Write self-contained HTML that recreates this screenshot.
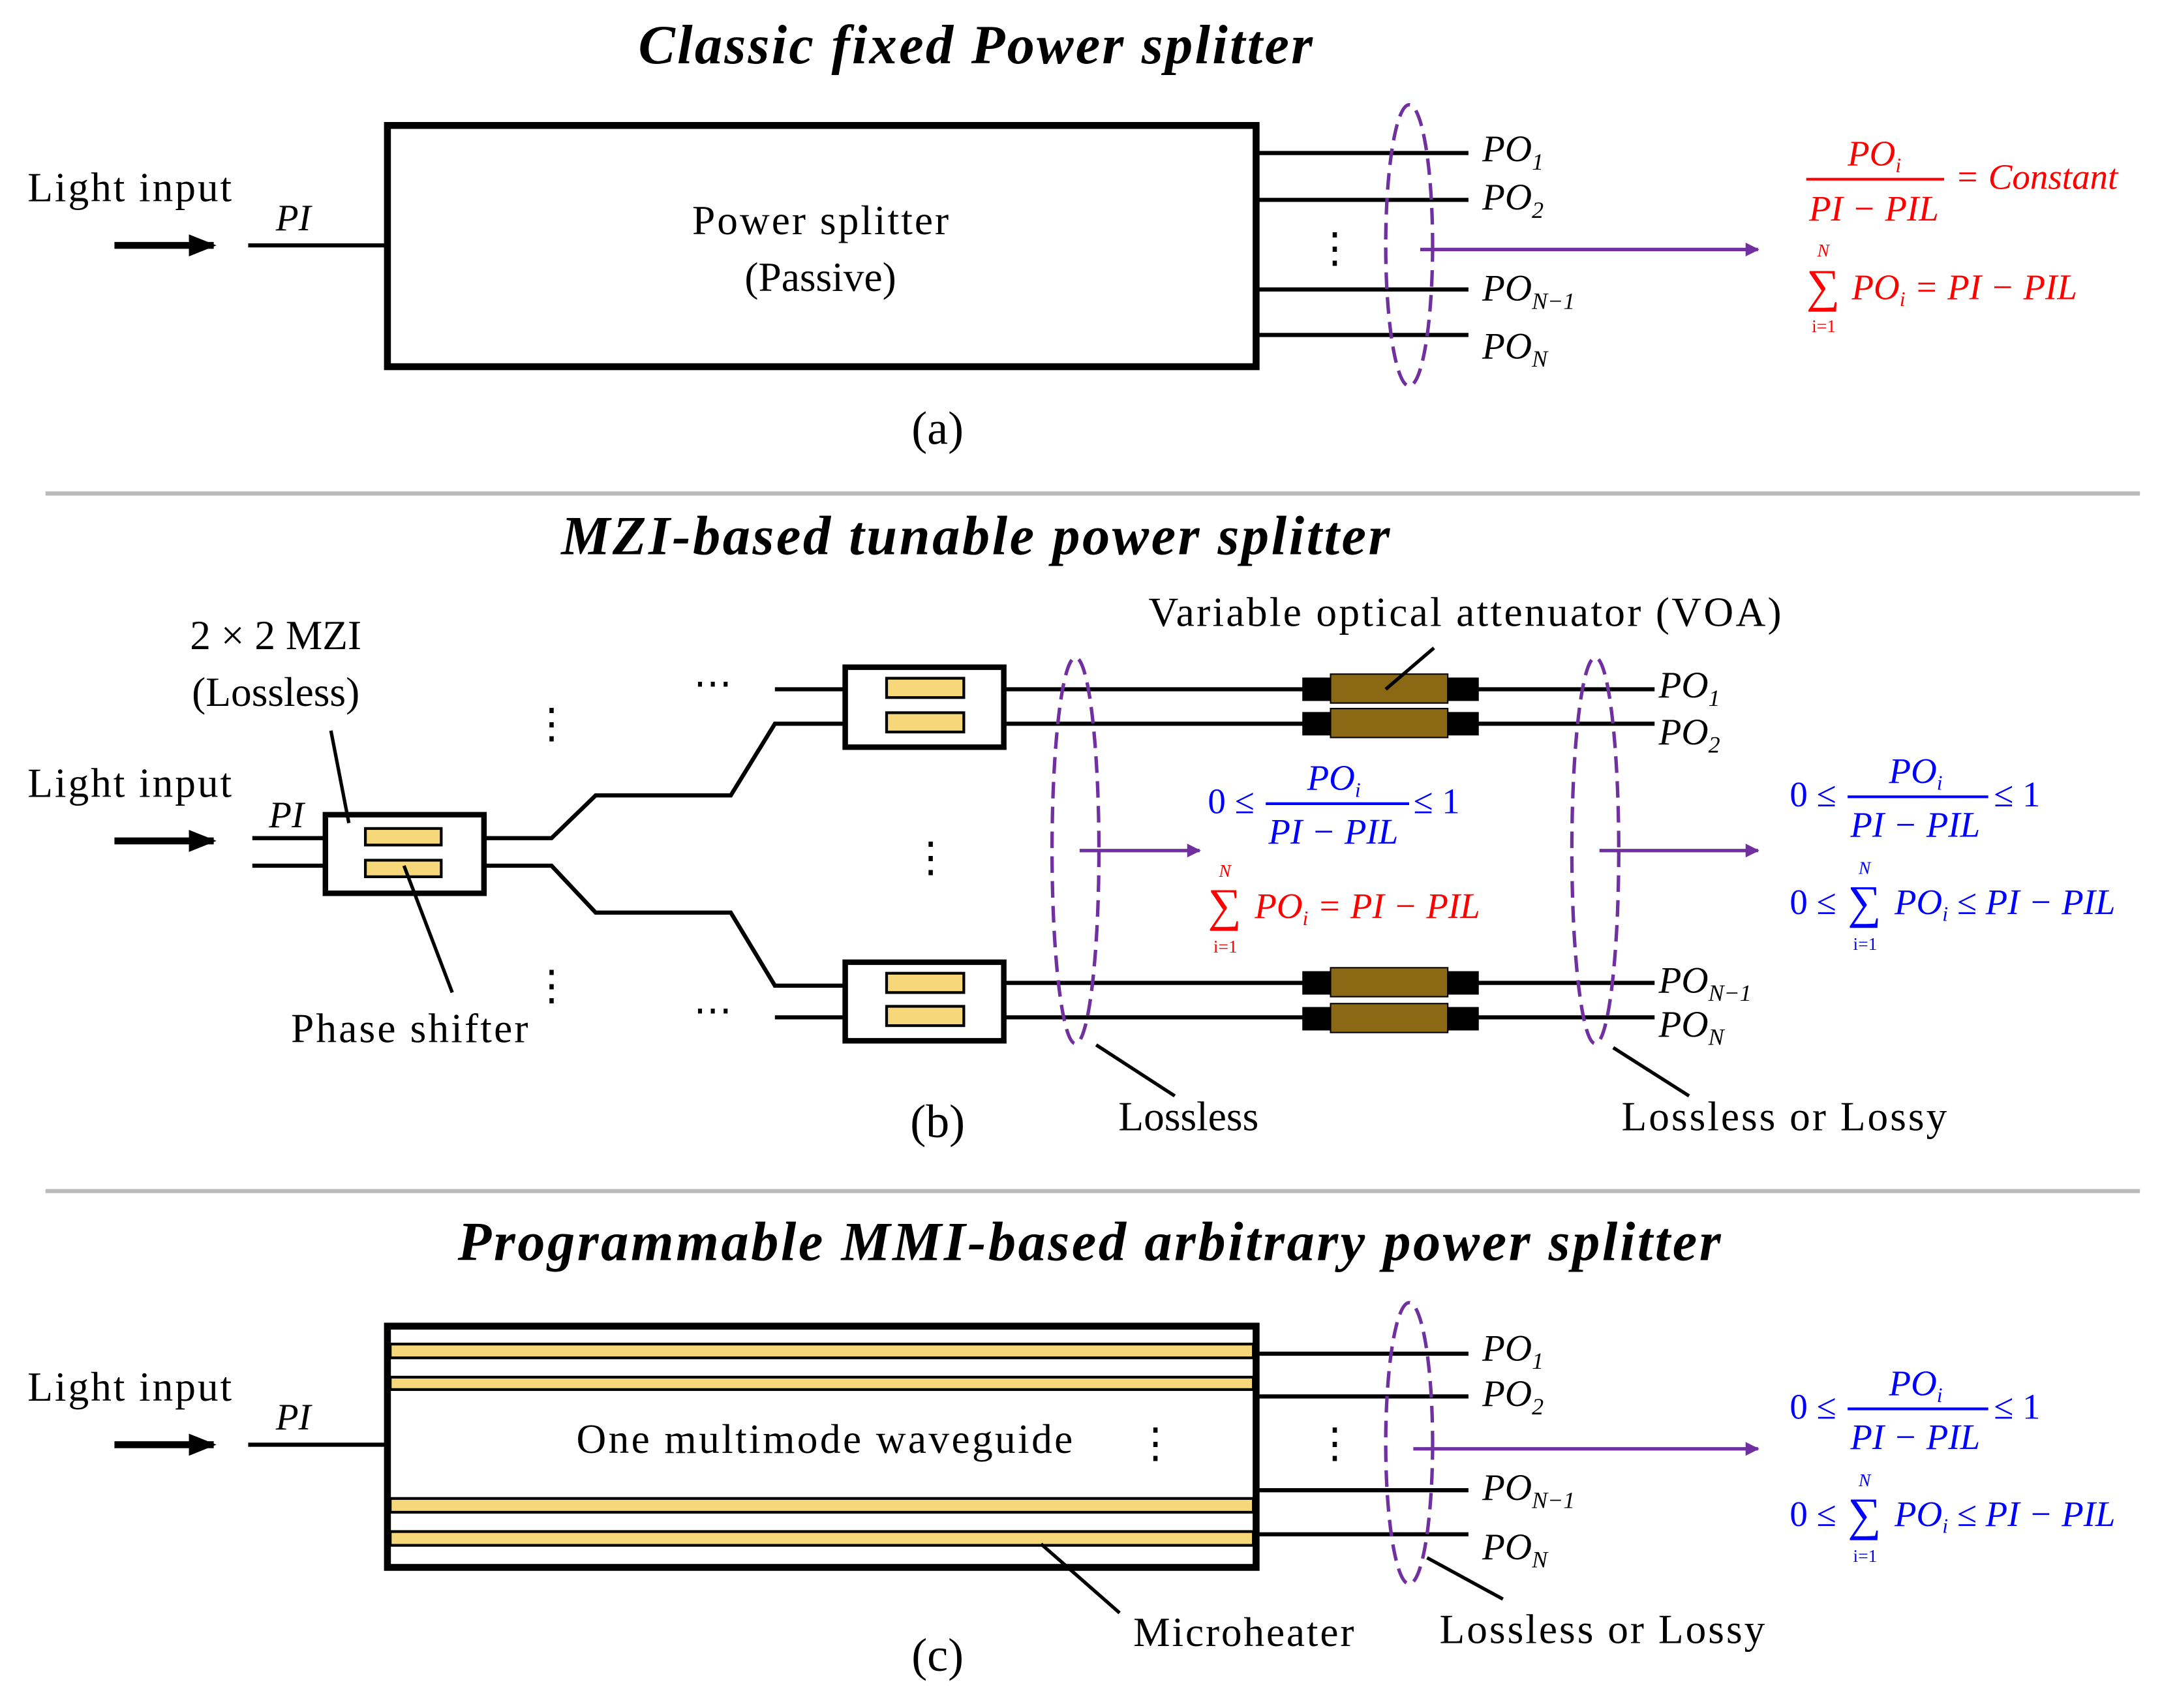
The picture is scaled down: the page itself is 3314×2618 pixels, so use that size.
<!DOCTYPE html>
<html><head><meta charset="utf-8"><style>
html,body{margin:0;padding:0;background:#fff}
svg{display:block}
text{font-family:"Liberation Serif",serif}
.t{font-weight:bold;font-style:italic;font-size:40px}
.n{font-size:30px}
.i{font-style:italic;font-size:27px}
.r{fill:#f00}
.b{fill:#00f}
</style></head><body>
<svg width="3314" height="2618" viewBox="0 0 1568 1239" preserveAspectRatio="none" xmlns="http://www.w3.org/2000/svg">
<defs>
<marker id="pa" markerWidth="10" markerHeight="10" refX="9" refY="5" orient="auto" markerUnits="userSpaceOnUse" viewBox="0 0 10 10"><path d="M0,0 L10,5 L0,10 z" fill="#7030a0"/></marker>
<marker id="ba" markerWidth="20" markerHeight="20" refX="18" refY="10" orient="auto" markerUnits="userSpaceOnUse" viewBox="0 0 20 20"><path d="M0,2 L20,10 L0,18 z" fill="#000"/></marker>
</defs>
<g stroke="#000" fill="none">
<!-- (a) -->
<rect x="281" y="91" width="630" height="175" stroke-width="5"/>
<line x1="83" y1="178" x2="155" y2="178" stroke-width="5" marker-end="url(#ba)"/>
<line x1="180" y1="178" x2="281" y2="178" stroke-width="3"/>
<g stroke-width="3"><line x1="911" y1="111" x2="1065" y2="111"/><line x1="911" y1="145" x2="1065" y2="145"/><line x1="911" y1="210" x2="1065" y2="210"/><line x1="911" y1="243" x2="1065" y2="243"/></g>
<ellipse cx="1022" cy="178" rx="17" ry="102" stroke="#7030a0" stroke-width="2.5" stroke-dasharray="12,6"/>
<line x1="1030" y1="181" x2="1275" y2="181" stroke="#7030a0" stroke-width="2.5" marker-end="url(#pa)"/>
<line x1="1310" y1="130" x2="1410" y2="130" stroke="#f00" stroke-width="2"/>
<line x1="33" y1="358" x2="1552" y2="358" stroke="#bbb" stroke-width="3"/>
<!-- (b) -->
<line x1="83" y1="610" x2="155" y2="610" stroke-width="5" marker-end="url(#ba)"/>
<g stroke-width="3">
<line x1="183" y1="608" x2="236" y2="608"/><line x1="183" y1="628" x2="236" y2="628"/>
<polyline points="351,608 400,608 432,577 530,577 562,525 613,525"/>
<line x1="562" y1="500" x2="613" y2="500"/>
<polyline points="351,628 400,628 432,662 530,662 562,715 613,715"/>
<line x1="562" y1="738" x2="613" y2="738"/>
<line x1="728" y1="500" x2="1200" y2="500"/><line x1="728" y1="525" x2="1200" y2="525"/>
<line x1="728" y1="713" x2="1200" y2="713"/><line x1="728" y1="738" x2="1200" y2="738"/>
</g>
<rect x="236" y="591" width="115" height="57" stroke-width="4" fill="#fff"/>
<rect x="613" y="484" width="115" height="58" stroke-width="4" fill="#fff"/>
<rect x="613" y="698" width="115" height="57" stroke-width="4" fill="#fff"/>
<g fill="#f6d77a" stroke-width="2">
<rect x="265" y="601" width="55" height="12"/><rect x="265" y="624" width="55" height="12"/>
<rect x="643" y="492" width="56" height="14"/><rect x="643" y="517" width="56" height="14"/>
<rect x="643" y="706" width="56" height="14"/><rect x="643" y="730" width="56" height="14"/>
</g>
<g stroke-width="1">
<rect x="945" y="492" width="127" height="16" fill="#000"/><rect x="965" y="489" width="85" height="21" fill="#8b6914"/>
<rect x="945" y="517" width="127" height="16" fill="#000"/><rect x="965" y="514" width="85" height="21" fill="#8b6914"/>
<rect x="945" y="705" width="127" height="16" fill="#000"/><rect x="965" y="702" width="85" height="21" fill="#8b6914"/>
<rect x="945" y="731" width="127" height="16" fill="#000"/><rect x="965" y="728" width="85" height="21" fill="#8b6914"/>
</g>
<ellipse cx="780" cy="617" rx="17" ry="140" stroke="#7030a0" stroke-width="2.5" stroke-dasharray="12,6"/>
<ellipse cx="1157" cy="617" rx="17" ry="140" stroke="#7030a0" stroke-width="2.5" stroke-dasharray="12,6"/>
<line x1="783" y1="617" x2="870" y2="617" stroke="#7030a0" stroke-width="2.5" marker-end="url(#pa)"/>
<line x1="1160" y1="617" x2="1275" y2="617" stroke="#7030a0" stroke-width="2.5" marker-end="url(#pa)"/>
<g stroke-width="2.5">
<line x1="795" y1="758" x2="852" y2="795"/><line x1="1170" y1="760" x2="1225" y2="795"/>
<line x1="293" y1="628" x2="328" y2="720"/><line x1="240" y1="530" x2="253" y2="597"/>
<line x1="1040" y1="470" x2="1005" y2="500"/>
</g>
<line x1="918" y1="583" x2="1022" y2="583" stroke="#00f" stroke-width="2"/>
<line x1="1340" y1="578" x2="1442" y2="578" stroke="#00f" stroke-width="2"/>
<line x1="33" y1="864" x2="1552" y2="864" stroke="#bbb" stroke-width="3"/>
<!-- (c) -->
<line x1="83" y1="1048" x2="155" y2="1048" stroke-width="5" marker-end="url(#ba)"/>
<line x1="180" y1="1048" x2="281" y2="1048" stroke-width="3"/>
<g fill="#f6d77a" stroke-width="2">
<rect x="283" y="975" width="626" height="10"/><rect x="283" y="999" width="626" height="9"/>
<rect x="283" y="1087" width="626" height="10"/><rect x="283" y="1111" width="626" height="10"/>
</g>
<rect x="281" y="962" width="630" height="175" stroke-width="5"/>
<g stroke-width="3"><line x1="911" y1="982" x2="1065" y2="982"/><line x1="911" y1="1013" x2="1065" y2="1013"/><line x1="911" y1="1081" x2="1065" y2="1081"/><line x1="911" y1="1113" x2="1065" y2="1113"/></g>
<ellipse cx="1022" cy="1047" rx="17" ry="102" stroke="#7030a0" stroke-width="2.5" stroke-dasharray="12,6"/>
<line x1="1025" y1="1051" x2="1275" y2="1051" stroke="#7030a0" stroke-width="2.5" marker-end="url(#pa)"/>
<g stroke-width="2.5"><line x1="755" y1="1120" x2="812" y2="1170"/><line x1="1035" y1="1130" x2="1090" y2="1160"/></g>
<line x1="1340" y1="1022" x2="1442" y2="1022" stroke="#00f" stroke-width="2"/>
</g>
<!-- text -->
<text x="463" y="46" class="t" textLength="489">Classic fixed Power splitter</text>
<text x="502" y="170" class="n" textLength="186">Power splitter</text>
<text x="595" y="211" class="n" text-anchor="middle">(Passive)</text>
<text x="20" y="146" class="n" textLength="148">Light input</text>
<text x="200" y="167" class="i">PI</text>
<text x="1075" y="117" class="i">PO<tspan font-size="17" dy="6">1</tspan></text>
<text x="1075" y="152" class="i">PO<tspan font-size="17" dy="6">2</tspan></text>
<text x="1075" y="218" class="i">PO<tspan font-size="17" dy="6">N−1</tspan></text>
<text x="1075" y="260" class="i">PO<tspan font-size="17" dy="6">N</tspan></text>
<text x="968" y="190" font-size="30" text-anchor="middle">⋮</text>
<g class="r" font-style="italic" font-size="26">
<text x="1340" y="120">PO<tspan font-size="15" dy="5">i</tspan></text>
<text x="1312" y="160">PI − PIL</text>
<text x="1418" y="137">= Constant</text>
<text x="1310" y="219" font-size="34" font-style="normal">∑</text>
<text x="1318" y="186" font-size="13">N</text>
<text x="1314" y="241" font-size="13" font-style="normal">i=1</text>
<text x="1343" y="217">PO<tspan font-size="15" dy="5">i</tspan><tspan dy="-5"> = PI − PIL</tspan></text>
</g>
<text x="680" y="322" font-size="34" text-anchor="middle">(a)</text>

<text x="407" y="402" class="t" textLength="601">MZI-based tunable power splitter</text>
<text x="200" y="471" class="n" text-anchor="middle">2 × 2 MZI</text>
<text x="200" y="512" class="n" text-anchor="middle">(Lossless)</text>
<text x="20" y="578" class="n" textLength="148">Light input</text>
<text x="195" y="600" class="i">PI</text>
<text x="211" y="756" class="n" textLength="172">Phase shifter</text>
<text x="833" y="454" class="n" textLength="459">Variable optical attenuator (VOA)</text>
<text x="862" y="820" class="n" text-anchor="middle">Lossless</text>
<text x="1176" y="820" class="n" textLength="236">Lossless or Lossy</text>
<text x="680" y="825" font-size="34" text-anchor="middle">(b)</text>
<text x="517" y="505" font-size="28" text-anchor="middle">⋯</text>
<text x="517" y="742" font-size="28" text-anchor="middle">⋯</text>
<text x="400" y="535" font-size="30" text-anchor="middle">⋮</text>
<text x="400" y="725" font-size="30" text-anchor="middle">⋮</text>
<text x="675" y="632" font-size="30" text-anchor="middle">⋮</text>
<text x="1203" y="506" class="i">PO<tspan font-size="17" dy="6">1</tspan></text>
<text x="1203" y="540" class="i">PO<tspan font-size="17" dy="6">2</tspan></text>
<text x="1203" y="720" class="i">PO<tspan font-size="17" dy="6">N−1</tspan></text>
<text x="1203" y="752" class="i">PO<tspan font-size="17" dy="6">N</tspan></text>
<g class="b" font-style="italic" font-size="26">
<text x="876" y="590" font-style="normal">0 ≤</text>
<text x="948" y="573">PO<tspan font-size="15" dy="5">i</tspan></text>
<text x="920" y="612">PI − PIL</text>
<text x="1025" y="590" font-style="normal">≤ 1</text>
<text x="1298" y="585" font-style="normal">0 ≤</text>
<text x="1370" y="568">PO<tspan font-size="15" dy="5">i</tspan></text>
<text x="1342" y="607">PI − PIL</text>
<text x="1446" y="585" font-style="normal">≤ 1</text>
<text x="1298" y="663" font-style="normal">0 ≤</text>
<text x="1340" y="666" font-size="34" font-style="normal">∑</text>
<text x="1348" y="634" font-size="13">N</text>
<text x="1344" y="689" font-size="13" font-style="normal">i=1</text>
<text x="1374" y="663">PO<tspan font-size="15" dy="5">i</tspan><tspan dy="-5"> ≤ PI − PIL</tspan></text>
</g>
<g class="r" font-style="italic" font-size="26">
<text x="876" y="668" font-size="34" font-style="normal">∑</text>
<text x="884" y="636" font-size="13">N</text>
<text x="880" y="691" font-size="13" font-style="normal">i=1</text>
<text x="910" y="666">PO<tspan font-size="15" dy="5">i</tspan><tspan dy="-5"> = PI − PIL</tspan></text>
</g>

<text x="332" y="914" class="t" textLength="916">Programmable MMI-based arbitrary power splitter</text>
<text x="20" y="1016" class="n" textLength="148">Light input</text>
<text x="200" y="1037" class="i">PI</text>
<text x="418" y="1054" class="n" textLength="360">One multimode waveguide</text>
<text x="838" y="1057" font-size="30" text-anchor="middle">⋮</text>
<text x="968" y="1057" font-size="30" text-anchor="middle">⋮</text>
<text x="1075" y="987" class="i">PO<tspan font-size="17" dy="6">1</tspan></text>
<text x="1075" y="1020" class="i">PO<tspan font-size="17" dy="6">2</tspan></text>
<text x="1075" y="1088" class="i">PO<tspan font-size="17" dy="6">N−1</tspan></text>
<text x="1075" y="1131" class="i">PO<tspan font-size="17" dy="6">N</tspan></text>
<text x="822" y="1194" class="n" textLength="160">Microheater</text>
<text x="1044" y="1192" class="n" textLength="236">Lossless or Lossy</text>
<text x="680" y="1212" font-size="34" text-anchor="middle">(c)</text>
<g class="b" font-style="italic" font-size="26">
<text x="1298" y="1029" font-style="normal">0 ≤</text>
<text x="1370" y="1012">PO<tspan font-size="15" dy="5">i</tspan></text>
<text x="1342" y="1051">PI − PIL</text>
<text x="1446" y="1029" font-style="normal">≤ 1</text>
<text x="1298" y="1107" font-style="normal">0 ≤</text>
<text x="1340" y="1110" font-size="34" font-style="normal">∑</text>
<text x="1348" y="1078" font-size="13">N</text>
<text x="1344" y="1133" font-size="13" font-style="normal">i=1</text>
<text x="1374" y="1107">PO<tspan font-size="15" dy="5">i</tspan><tspan dy="-5"> ≤ PI − PIL</tspan></text>
</g>
</svg>
</body></html>
